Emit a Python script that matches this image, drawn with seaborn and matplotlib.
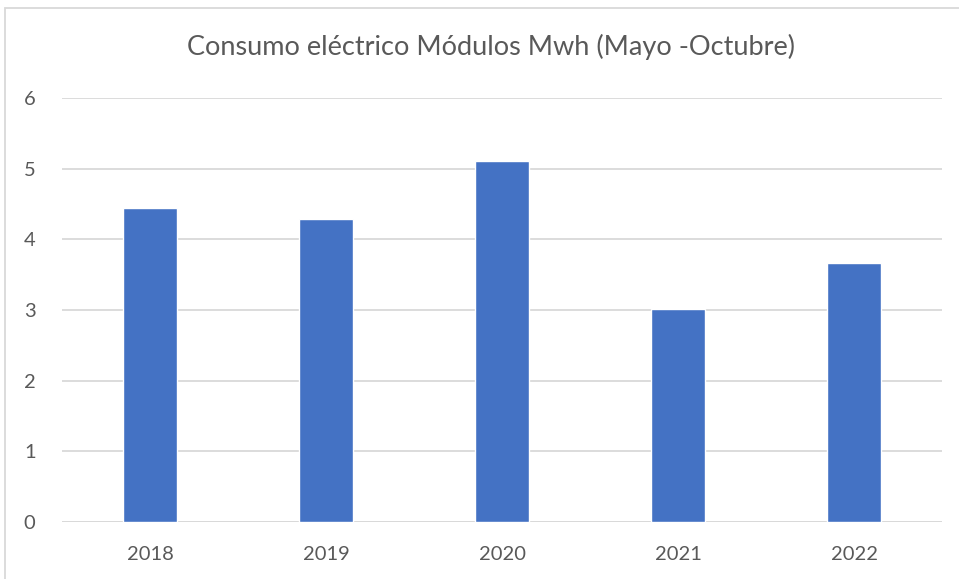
import matplotlib
matplotlib.use("Agg")
import matplotlib.pyplot as plt
import seaborn as sns
import pandas as pd
from matplotlib.patches import Rectangle

years = ["2018", "2019", "2020", "2021", "2022"]
values = [4.44, 4.29, 5.11, 3.01, 3.66]
yticks = [0, 1, 2, 3, 4, 5, 6]
title = "Consumo eléctrico Módulos Mwh (Mayo -Octubre)"

sns.set_theme(style="white")
plt.rcParams['font.family'] = ['Lato', 'DejaVu Sans']

df = pd.DataFrame({"year": years, "value": values})

fig = plt.figure(figsize=(9.59, 5.79), dpi=100)
ax = fig.add_axes([62/959, 1-522/579, 880/959, (522-98)/579])

sns.barplot(data=df, x="year", y="value", color="#4472C4", saturation=1,
            width=0.31, ax=ax, zorder=3)

ax.set_ylim(0, 6)
ax.set_xlim(-0.5, len(years)-0.5)
ax.set_yticks(yticks)
ax.set_yticklabels([str(t) for t in yticks])
ax.yaxis.grid(True, color="#D9D9D9", linewidth=1.3, zorder=0)
ax.set_axisbelow(True)
for s in ax.spines.values():
    s.set_visible(False)
ax.axhline(0, color="#D9D9D9", linewidth=1.3, zorder=1)
ax.set_xlabel("")
ax.set_ylabel("")
ax.tick_params(axis="both", length=0, labelsize=14.5, labelcolor="#595959")
ax.tick_params(axis="y", pad=19)
ax.tick_params(axis="x", pad=17)

fig.text(491/959, 1-47/579, title, ha="center", va="center",
         fontsize=19.5, color="#595959")

fig.patches.append(Rectangle((5/959, -0.01), 1.0, 1-8/579+0.01,
                             transform=fig.transFigure, fill=False,
                             edgecolor="#D9D9D9", linewidth=1.3))

fig.savefig("out.png", dpi=100)
